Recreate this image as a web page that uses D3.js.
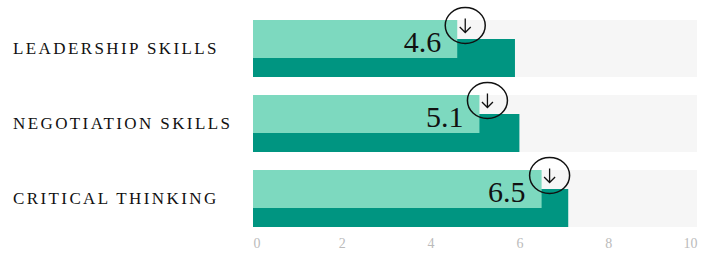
<!DOCTYPE html>
<html lang="en">
<head>
    <meta charset="UTF-8">
    <title>Skills bullet chart</title>
    <script src="https://d3js.org/d3.v7.min.js"></script>
    <style>
        body { margin: 0; background: #fff; }
    </style>
</head>
<body>
    <div id="chart"></div>

    <script>
        // data
        const skills = ['Leadership Skills', 'Negotiation Skills', 'Critical Thinking'];
        const current = [4.6, 5.1, 6.5];
        const previous = [5.9, 6.0, 7.1];
        const ticks = [0, 2, 4, 6, 8, 10];

        const width = 709, height = 259;
        const light = '#7dd9bf', dark = '#009581', track = '#f6f6f6';
        const serif = '"Liberation Serif", "DejaVu Serif", serif';

        const svg = d3.select('#chart')
            .append('svg')
                .attr('width', width)
                .attr('height', height);

        const x = d3.scaleLinear()
            .domain([0, 10])
            .range([253, 697]);

        const y = d3.scaleBand()
            .domain(skills)
            .range([20, 227])
            .paddingInner(0.24);

        const bh = y.bandwidth();

        const rows = svg.selectAll('g.row')
            .data(skills.map((s, i) => ({name: s, cur: current[i], prev: previous[i]})))
            .join('g')
                .attr('class', 'row')
                .attr('transform', d => `translate(0, ${y(d.name)})`);

        // grey track
        rows.append('rect')
            .attr('x', x(0))
            .attr('width', x(10) - x(0))
            .attr('height', bh)
            .attr('fill', track);

        // previous value, lower part
        rows.append('rect')
            .attr('x', x(0))
            .attr('y', bh / 3)
            .attr('width', d => x(d.prev) - x(0))
            .attr('height', bh * 2 / 3)
            .attr('fill', dark);

        // current value, upper part, on top
        rows.append('rect')
            .attr('x', x(0))
            .attr('width', d => x(d.cur) - x(0))
            .attr('height', bh * 2 / 3)
            .attr('fill', light);

        // value label
        rows.append('text')
            .attr('x', d => x(d.cur) - 16)
            .attr('y', 32)
            .attr('text-anchor', 'end')
            .style('font-family', serif)
            .style('font-size', '30px')
            .attr('fill', '#111')
            .text(d => d.cur.toFixed(1));

        // down arrow in a circle
        const mark = rows.append('g')
            .attr('transform', d => `translate(${x(d.cur) + 8}, 5.5)`);
        mark.append('ellipse')
            .attr('rx', 20)
            .attr('ry', 18)
            .attr('fill', 'none')
            .attr('stroke', '#111')
            .attr('stroke-width', 1.5);
        mark.append('path')
            .attr('d', d => d.cur < d.prev
                ? 'M0,-7V7M-5.5,1.5L0,7L5.5,1.5'
                : 'M0,7V-7M-5.5,-1.5L0,-7L5.5,-1.5')
            .attr('fill', 'none')
            .attr('stroke', '#111')
            .attr('stroke-width', 1.3);

        // category labels
        rows.append('text')
            .attr('x', 13)
            .attr('y', bh / 2 + 5.5)
            .style('font-family', serif)
            .style('font-size', '17px')
            .style('letter-spacing', '2.4px')
            .attr('fill', '#111')
            .text(d => d.name.toUpperCase());

        // bottom axis, numbers only
        const axis = svg.append('g')
            .attr('transform', 'translate(0, 238)')
            .call(d3.axisBottom(x).tickValues(ticks).tickSize(0).tickPadding(0));
        axis.select('.domain').remove();
        axis.selectAll('text')
            .style('font-family', serif)
            .style('font-size', '14px')
            .attr('fill', '#bbb')
            .attr('text-anchor', (d, i) => i === 0 ? 'start' : i === ticks.length - 1 ? 'end' : 'middle');
    </script>
</body>
</html>
